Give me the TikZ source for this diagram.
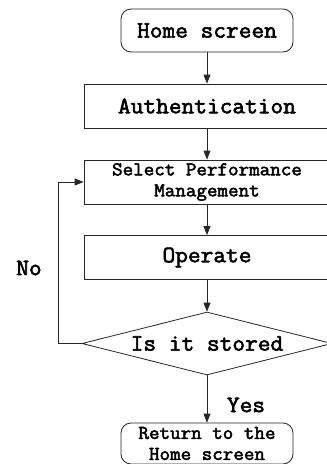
\documentclass[tikz,border=0pt]{standalone}
\usepackage{fontspec}
\setmonofont{Latin Modern Mono}[FakeStretch=1.05, FakeBold=2.5]
\usetikzlibrary{shapes.geometric,arrows.meta}
\begin{document}
\begin{tikzpicture}[x=1pt,y=-1pt,
  every node/.style={font=\ttfamily\fontsize{23.5}{26}\selectfont, inner sep=0pt},
  small/.style={font=\ttfamily\fontsize{19.5}{21}\selectfont},
  term/.style={draw=black!85, line width=0.8pt, rounded corners=10pt, minimum width=172pt, minimum height=43pt, align=center},
  proc/.style={draw=black!85, line width=0.8pt, minimum width=246pt, minimum height=44pt, align=center},
  dec/.style={draw=black!85, line width=0.8pt, diamond, aspect=4, minimum width=250pt, minimum height=63pt},
  arr/.style={-{Triangle[length=9pt,width=7pt]}, line width=0.8pt, draw=black!85}]
\useasboundingbox (0,0) rectangle (327,464);
\clip (0,0) rectangle (327,464);
\node[term] (home) at (207,30.5) {Home screen};
\node[proc] (auth) at (207,106) {Authentication};
\node[proc, small] (sel) at (207,182) {Select Performance\\Management};
\node[proc] (op) at (207,257.5) {Operate};
\node[dec] (store) at (207,343.5) {Is it stored};
\node[term, small, minimum height=41pt] (ret) at (207,443.5) {Return to the\\Home screen};
\coordinate (lp) at (58,343.5);
\node (no) at (29,268) {No};
\node (yes) at (246,405) {Yes};
\draw[arr] (home) -- (auth);
\draw[arr] (auth) -- (sel);
\draw[arr] (sel) -- (op);
\draw[arr] (op) -- (store);
\draw[arr] (store) -- (ret);
\draw[arr] (store.west) -- (lp) |- (sel.west);
\end{tikzpicture}
\end{document}
